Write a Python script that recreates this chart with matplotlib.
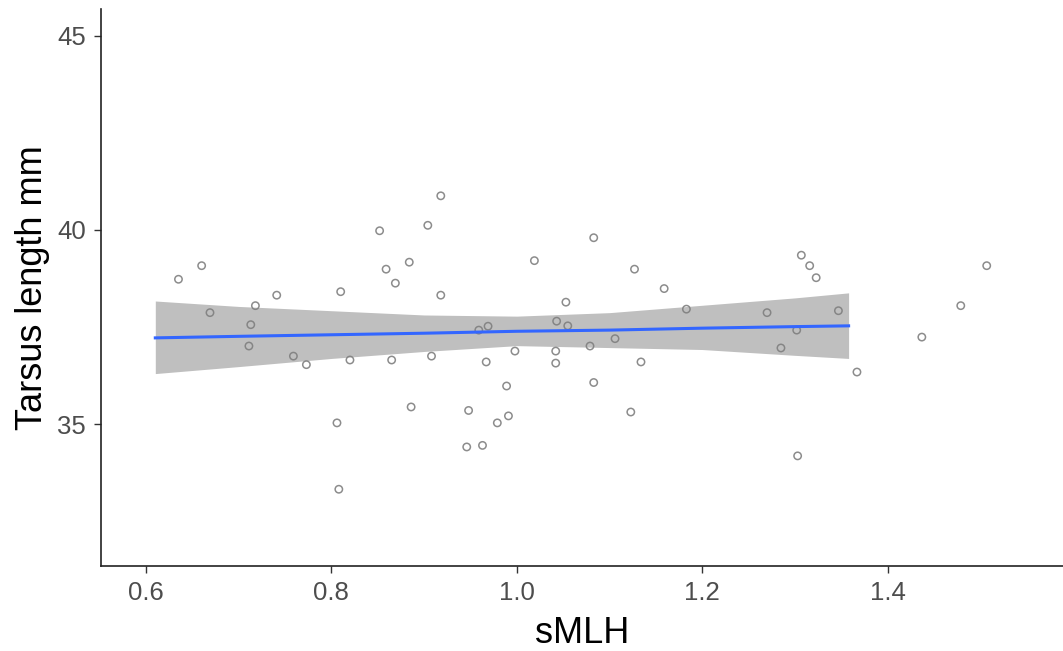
import matplotlib
matplotlib.use("Agg")
import matplotlib.pyplot as plt

# Individual birds: standardised multilocus heterozygosity vs tarsus length
smlh = [0.635, 0.660, 0.669, 0.718, 0.713, 0.711, 0.741, 0.759, 0.773, 0.810,
        0.806, 0.808, 0.820, 0.852, 0.859, 0.869, 0.884, 0.865, 0.886, 0.904,
        0.908, 0.918, 0.918, 0.959, 0.969, 0.967, 0.998, 0.989, 0.948, 0.991,
        0.979, 0.946, 0.963, 1.019, 1.083, 1.127, 1.159, 1.053, 1.043, 1.055,
        1.042, 1.042, 1.079, 1.106, 1.134, 1.083, 1.123, 1.183, 1.270, 1.285,
        1.302, 1.303, 1.307, 1.316, 1.323, 1.347, 1.367, 1.437, 1.479, 1.507]
tarsus = [38.73, 39.08, 37.87, 38.05, 37.56, 37.01, 38.32, 36.75, 36.53, 38.41,
          35.03, 33.32, 36.65, 39.98, 38.99, 38.63, 39.17, 36.65, 35.44, 40.12,
          36.75, 40.88, 38.32, 37.42, 37.52, 36.60, 36.88, 35.98, 35.35, 35.21,
          35.03, 34.41, 34.45, 39.21, 39.80, 38.99, 38.49, 38.14, 37.65, 37.53,
          36.88, 36.57, 37.01, 37.20, 36.60, 36.07, 35.31, 37.96, 37.87, 36.96,
          37.42, 34.18, 39.35, 39.08, 38.77, 37.92, 36.34, 37.24, 38.05, 39.08]

# Linear fit and its 95% confidence band
fit_x = [0.610, 0.700, 0.800, 0.900, 1.000, 1.100, 1.200, 1.300, 1.358]
fit_y = [37.22, 37.26, 37.30, 37.34, 37.39, 37.42, 37.47, 37.51, 37.53]
fit_lo = [36.30, 36.48, 36.69, 36.87, 37.02, 36.97, 36.92, 36.77, 36.69]
fit_hi = [38.17, 38.03, 37.92, 37.81, 37.78, 37.87, 38.06, 38.25, 38.38]

plt.rcParams["font.family"] = ["Liberation Sans", "DejaVu Sans"]

fig = plt.figure(figsize=(10.63, 6.51), dpi=100)
ax = fig.add_axes([0.095, 0.131, 0.905, 0.855])

ax.scatter(smlh, tarsus, s=28, facecolors="none", edgecolors="#8c8c8c",
           linewidths=1.1, zorder=2)
ax.fill_between(fit_x, fit_lo, fit_hi, color="#808080", alpha=0.5,
                linewidth=0, zorder=3)
ax.plot(fit_x, fit_y, color="#3366FF", linewidth=2.2, zorder=4)

ax.set_xlim(0.5514, 1.5893)
ax.set_ylim(31.35, 45.69)
ax.set_xticks([0.6, 0.8, 1.0, 1.2, 1.4])
ax.set_xticklabels(["0.6", "0.8", "1.0", "1.2", "1.4"])
ax.set_yticks([35, 40, 45])

for side in ("top", "right"):
    ax.spines[side].set_visible(False)
for side in ("left", "bottom"):
    ax.spines[side].set_color("#222222")
    ax.spines[side].set_linewidth(1.2)

ax.tick_params(axis="both", direction="out", length=5, width=1.0,
               color="#333333", labelcolor="#4D4D4D", labelsize=18.5, pad=6)

ax.set_xlabel("sMLH", fontsize=26, color="black", labelpad=8)
ax.set_ylabel("Tarsus length mm", fontsize=26, color="black", labelpad=5)

fig.savefig("out.png", dpi=100)
